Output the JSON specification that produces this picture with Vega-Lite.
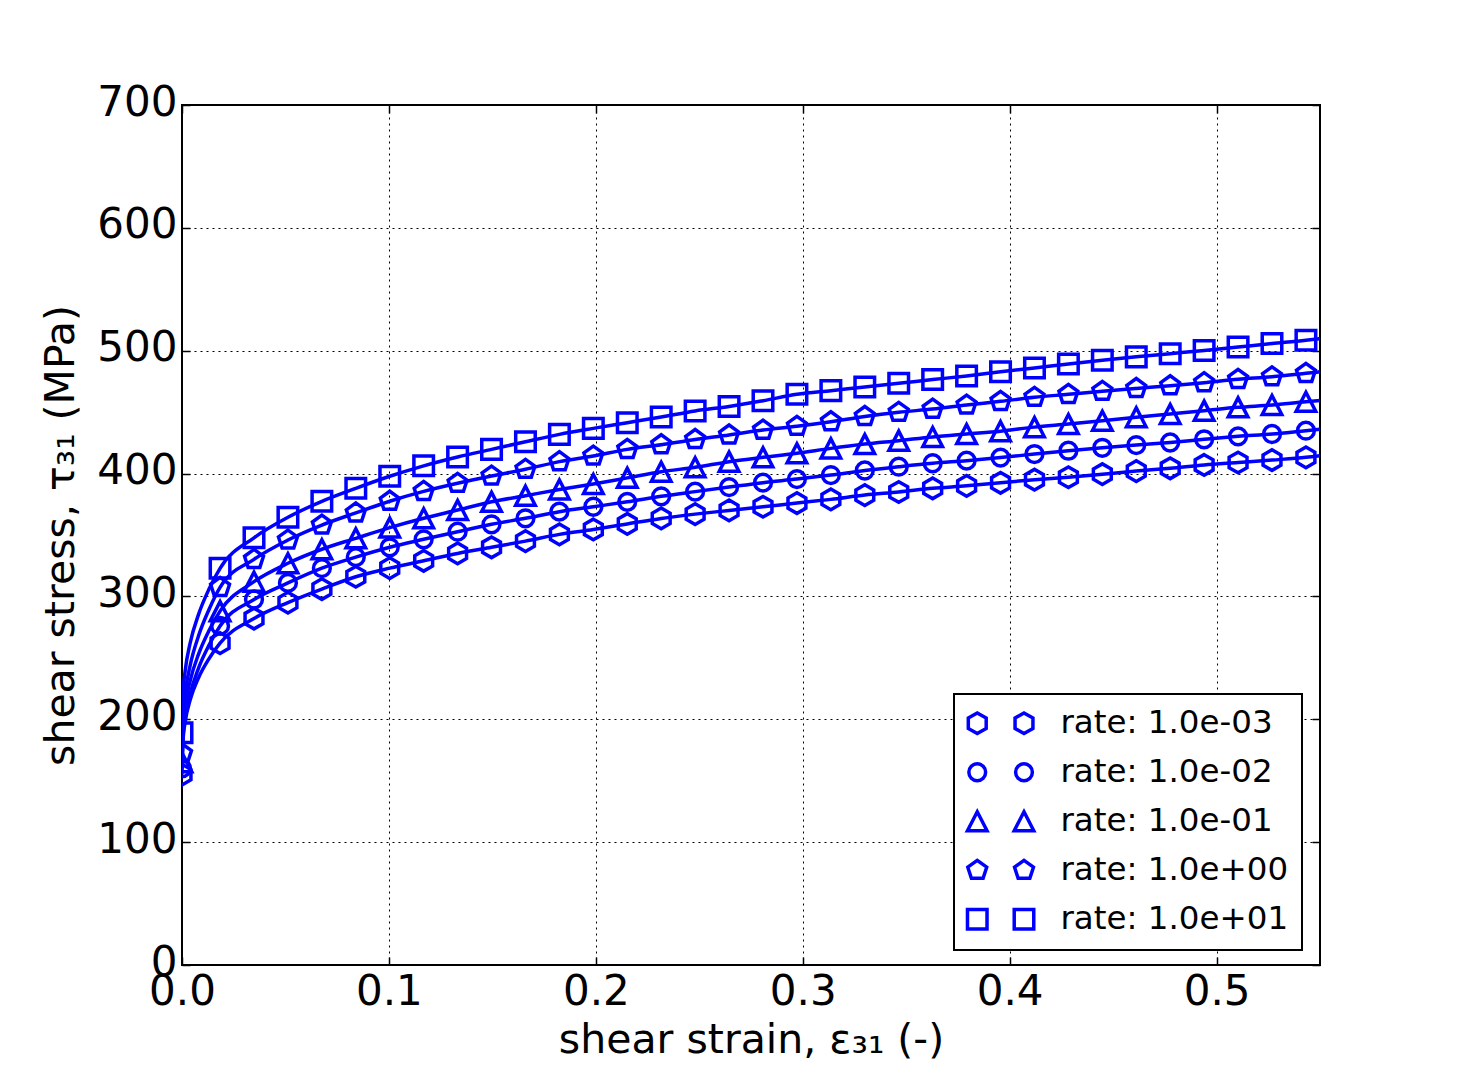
{
  "$schema": "https://vega.github.io/schema/vega-lite/v6.json",
  "autosize": {"type": "none"},
  "padding": {"left": 182, "top": 105, "right": 147, "bottom": 108},
  "width": 1138,
  "height": 860,
  "background": "white",
  "config": {
    "view": {"stroke": "black", "strokeWidth": 2},
    "font": "DejaVu Sans",
    "axis": {
      "labelFont": "DejaVu Sans",
      "titleFont": "DejaVu Sans",
      "labelFontSize": 42,
      "titleFontSize": 41,
      "titleFontWeight": "normal",
      "labelColor": "black",
      "titleColor": "black",
      "tickColor": "black",
      "tickWidth": 1.5,
      "tickSize": -8,
      "domain": false,
      "gridColor": "black",
      "gridDash": [2, 4],
      "gridWidth": 1,
      "gridOpacity": 1
    },
    "legend": {
      "labelFont": "DejaVu Sans",
      "labelFontSize": 32.5,
      "labelColor": "black",
      "labelLimit": 500,
      "strokeWidth": 2
    }
  },
  "data": {
    "values": [
      {"x": 0, "h": 155, "c": 160, "t": 165, "p": 172, "s": 189, "m": 1},
      {"x": 0.0005, "h": 183.4, "c": 185.4, "t": 193.9, "p": 203.7, "s": 221.7, "m": 0},
      {"x": 0.0015, "h": 197.5, "c": 200.3, "t": 210, "p": 220.7, "s": 239, "m": 0},
      {"x": 0.004, "h": 216, "c": 221, "t": 231.7, "p": 244.3, "s": 262.5, "m": 0},
      {"x": 0.008, "h": 233.8, "c": 241.7, "t": 253, "p": 268, "s": 285.4, "m": 0},
      {"x": 0.013, "h": 249.2, "c": 260.2, "t": 272, "p": 289.2, "s": 305.8, "m": 0},
      {"x": 0.0184, "h": 262, "c": 276, "t": 288, "p": 307.4, "s": 322.9, "m": 1},
      {"x": 0.0348, "h": 282, "c": 297.5, "t": 312, "p": 330.2, "s": 347.7, "m": 1},
      {"x": 0.0512, "h": 295, "c": 311, "t": 327, "p": 345.9, "s": 364.4, "m": 1},
      {"x": 0.0676, "h": 306, "c": 323, "t": 338.4, "p": 358.1, "s": 377.4, "m": 1},
      {"x": 0.084, "h": 316, "c": 332, "t": 347.3, "p": 368, "s": 388, "m": 1},
      {"x": 0.1004, "h": 323, "c": 340, "t": 356, "p": 377.5, "s": 397.8, "m": 1},
      {"x": 0.1168, "h": 329, "c": 346.5, "t": 363.6, "p": 385.5, "s": 406.3, "m": 1},
      {"x": 0.1332, "h": 335, "c": 352.7, "t": 370.3, "p": 392.1, "s": 413.5, "m": 1},
      {"x": 0.1496, "h": 340, "c": 358.7, "t": 377, "p": 398, "s": 419.7, "m": 1},
      {"x": 0.166, "h": 345, "c": 363.6, "t": 382, "p": 403.5, "s": 425.9, "m": 1},
      {"x": 0.1824, "h": 350.5, "c": 369, "t": 387, "p": 409.7, "s": 431.9, "m": 1},
      {"x": 0.1988, "h": 354.5, "c": 373, "t": 391.5, "p": 414.3, "s": 436.8, "m": 1},
      {"x": 0.2152, "h": 359, "c": 377, "t": 396.5, "p": 419.7, "s": 441.4, "m": 1},
      {"x": 0.2316, "h": 363.5, "c": 381.5, "t": 401.5, "p": 423.5, "s": 446, "m": 1},
      {"x": 0.248, "h": 367, "c": 385.3, "t": 405.1, "p": 427.8, "s": 451, "m": 1},
      {"x": 0.2644, "h": 370, "c": 389, "t": 409.7, "p": 431.4, "s": 454.6, "m": 1},
      {"x": 0.2808, "h": 373, "c": 392.6, "t": 413.2, "p": 435.4, "s": 459.3, "m": 1},
      {"x": 0.2972, "h": 376, "c": 395.5, "t": 416.5, "p": 438.5, "s": 464.5, "m": 1},
      {"x": 0.3136, "h": 379, "c": 398.8, "t": 420.5, "p": 442.2, "s": 467.5, "m": 1},
      {"x": 0.33, "h": 382.5, "c": 402.5, "t": 424, "p": 446.5, "s": 470.5, "m": 1},
      {"x": 0.3464, "h": 385, "c": 405.6, "t": 426.8, "p": 449.9, "s": 473.5, "m": 1},
      {"x": 0.3628, "h": 388, "c": 408.4, "t": 429.8, "p": 452.5, "s": 476.5, "m": 1},
      {"x": 0.3792, "h": 390, "c": 410.5, "t": 432.2, "p": 455.8, "s": 479.5, "m": 1},
      {"x": 0.3956, "h": 392.5, "c": 413, "t": 434.5, "p": 458.8, "s": 482.8, "m": 1},
      {"x": 0.412, "h": 395, "c": 415.9, "t": 437.8, "p": 462.1, "s": 486, "m": 1},
      {"x": 0.4284, "h": 397, "c": 418.6, "t": 440.3, "p": 464.5, "s": 489.2, "m": 1},
      {"x": 0.4448, "h": 399.5, "c": 421, "t": 443, "p": 467, "s": 492.2, "m": 1},
      {"x": 0.4612, "h": 402, "c": 423.2, "t": 445.8, "p": 469.3, "s": 495, "m": 1},
      {"x": 0.4776, "h": 404.3, "c": 425.3, "t": 448.5, "p": 471.5, "s": 497.6, "m": 1},
      {"x": 0.494, "h": 407, "c": 427.9, "t": 451.2, "p": 474, "s": 500.2, "m": 1},
      {"x": 0.5104, "h": 409, "c": 430.3, "t": 453.9, "p": 476.7, "s": 503, "m": 1},
      {"x": 0.5268, "h": 411, "c": 432.2, "t": 455.8, "p": 478.8, "s": 505.8, "m": 1},
      {"x": 0.5432, "h": 413.2, "c": 434.9, "t": 458.5, "p": 481.6, "s": 508.5, "m": 1},
      {"x": 0.55, "h": 414.5, "c": 436, "t": 459.5, "p": 482.8, "s": 509.8, "m": 0}
    ]
  },
  "transform": [
    {"fold": ["h", "c", "t", "p", "s"], "as": ["key", "stress"]}
  ],
  "layer": [
    {
      "mark": {"type": "line", "color": "#0000ff", "strokeWidth": 3.5, "interpolate": "monotone", "clip": true},
      "encoding": {
        "x": {
          "field": "x", "type": "quantitative",
          "scale": {"domain": [0, 0.55], "nice": false, "zero": false},
          "axis": {
            "orient": "bottom", "values": [0, 0.1, 0.2, 0.3, 0.4, 0.5], "format": ".1f",
            "grid": true, "labelPadding": 14, "labelFlush": false,
            "title": "shear strain, ε₃₁ (-)", "titlePadding": 8
          }
        },
        "y": {
          "field": "stress", "type": "quantitative",
          "scale": {"domain": [0, 700], "nice": false},
          "axis": {
            "orient": "left", "values": [0, 100, 200, 300, 400, 500, 600, 700],
            "grid": true, "labelPadding": 13, "labelFlush": false, "labelOffset": -3,
            "title": "shear stress, τ₃₁ (MPa)", "titlePadding": 14
          }
        },
        "detail": {"field": "key"}
      }
    },
    {
      "transform": [{"filter": "datum.m == 1"}],
      "mark": {"type": "point", "filled": false, "color": "#0000ff", "strokeWidth": 3.5, "size": 340, "opacity": 1, "clip": true},
      "encoding": {
        "x": {
          "field": "x", "type": "quantitative",
          "axis": {"orient": "top", "values": [0, 0.1, 0.2, 0.3, 0.4, 0.5], "labels": false, "grid": false, "title": null}
        },
        "y": {
          "field": "stress", "type": "quantitative",
          "axis": {"orient": "right", "values": [0, 100, 200, 300, 400, 500, 600, 700], "labels": false, "grid": false, "title": null}
        },
        "shape": {
          "field": "key", "type": "nominal",
          "scale": {
            "domain": ["h", "c", "t", "p", "s"],
            "range": [
              "M0,-1.12L0.97,-0.56L0.97,0.56L0,1.12L-0.97,0.56L-0.97,-0.56Z",
              "M0.91,0A0.91,0.91 0 1,1 -0.91,0A0.91,0.91 0 1,1 0.91,0Z",
              "M0,-1.03L1.06,1.03L-1.06,1.03Z",
              "M0,-1.08L1.027,-0.334L0.635,0.874L-0.635,0.874L-1.027,-0.334Z",
              "M-1.06,-1.06L1.06,-1.06L1.06,1.06L-1.06,1.06Z"
            ]
          },
          "legend": null
        }
      }
    },
    {
      "transform": [{"filter": "datum.m == 1"}],
      "mark": {"type": "point", "filled": false, "color": "#0000ff", "strokeWidth": 3.5, "size": 340, "opacity": 0, "clip": true},
      "encoding": {
        "x": {"field": "x", "type": "quantitative", "axis": null},
        "y": {"field": "stress", "type": "quantitative", "axis": null},
        "shape": {
          "field": "key", "type": "nominal",
          "scale": {
            "domain": ["h", "c", "t", "p", "s"],
            "range": [
              "M0,-1.12L0.97,-0.56L0.97,0.56L0,1.12L-0.97,0.56L-0.97,-0.56ZM5.07,-1.12L6.04,-0.56L6.04,0.56L5.07,1.12L4.1,0.56L4.1,-0.56Z",
              "M0.91,0A0.91,0.91 0 1,1 -0.91,0A0.91,0.91 0 1,1 0.91,0ZM5.98,0A0.91,0.91 0 1,1 4.16,0A0.91,0.91 0 1,1 5.98,0Z",
              "M0,-1.03L1.06,1.03L-1.06,1.03ZM5.07,-1.03L6.13,1.03L4.01,1.03Z",
              "M0,-1.08L1.027,-0.334L0.635,0.874L-0.635,0.874L-1.027,-0.334ZM5.07,-1.08L6.097,-0.334L5.705,0.874L4.435,0.874L4.043,-0.334Z",
              "M-1.06,-1.06L1.06,-1.06L1.06,1.06L-1.06,1.06ZM4.01,-1.06L6.13,-1.06L6.13,1.06L4.01,1.06Z"
            ]
          },
          "legend": {
            "title": null,
            "orient": "none",
            "legendX": 772,
            "legendY": 589,
            "fillColor": "white",
            "strokeColor": "black",
            "padding": 13,
            "cornerRadius": 0,
            "rowPadding": 15,
            "symbolSize": 340,
            "symbolStrokeWidth": 3.5,
            "symbolStrokeColor": "#0000ff",
            "symbolFillColor": "transparent",
            "symbolOpacity": 1,
            "symbolOffset": -6,
            "labelOffset": 67,
            "labelExpr": "datum.value === 'h' ? 'rate: 1.0e-03' : datum.value === 'c' ? 'rate: 1.0e-02' : datum.value === 't' ? 'rate: 1.0e-01' : datum.value === 'p' ? 'rate: 1.0e+00' : 'rate: 1.0e+01'"
          }
        }
      }
    }
  ],
  "resolve": {
    "axis": {"x": "independent", "y": "independent"},
    "scale": {"shape": "independent"}
  }
}
